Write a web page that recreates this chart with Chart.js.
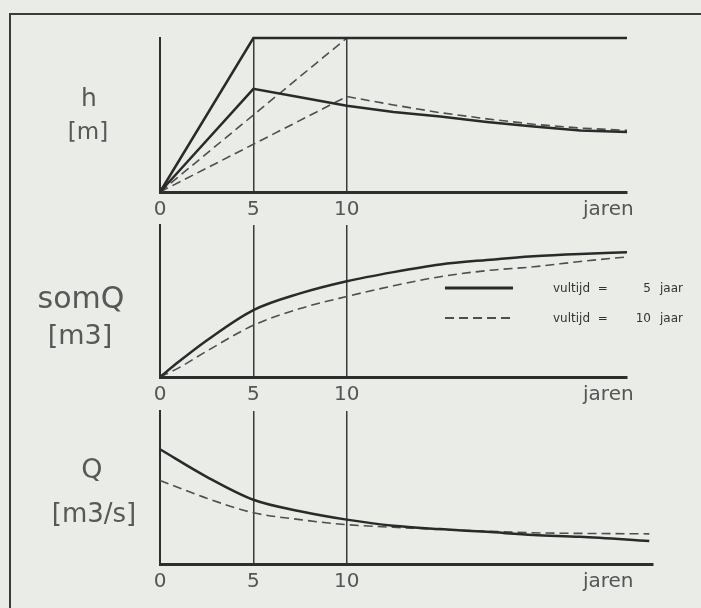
<!DOCTYPE html>
<html>
<head>
<meta charset="utf-8">
<script src="https://cdn.jsdelivr.net/npm/chart.js@4.4.1/dist/chart.umd.min.js"></script>
<style>
    body {
        margin: 0;
        width: 701px;
        height: 608px;
        background: #eaece8;
        position: relative;
        overflow: hidden;
        font-family: "DejaVu Sans", sans-serif;
        color: #585858;
    }
    .frame {
        position: absolute;
        left: 9px;
        top: 13px;
        right: -10px;
        bottom: -10px;
        border-left: 2px solid #3c3c3c;
        border-top: 2px solid #3c3c3c;
    }
    canvas { position: absolute; left: 0; }
    .lbl {
        position: absolute;
        transform: translate(-50%, -50%);
        white-space: nowrap;
        line-height: 1;
    }
</style>
</head>
<body>
<div class="frame"></div>
<canvas id="hChart" width="701" height="228" style="top:0px"></canvas>
<canvas id="somQChart" width="701" height="213" style="top:200px"></canvas>
<canvas id="qChart" width="701" height="215" style="top:385px"></canvas>

<div class="lbl" style="left:89px; top:97px; font-size:25px">h</div>
<div class="lbl" style="left:88px; top:131px; font-size:23px">[m]</div>
<div class="lbl" style="left:81px; top:298px; font-size:30px">somQ</div>
<div class="lbl" style="left:80px; top:334px; font-size:27px">[m3]</div>
<div class="lbl" style="left:92px; top:468px; font-size:27px">Q</div>
<div class="lbl" style="left:94px; top:513px; font-size:26px">[m3/s]</div>

<script>
// vultijd (filling time) in years, one per series
const fillTimes = [5, 10];
const legendText = ['vultijd  =', 'jaar'];

const xTicks = [0, 5, 10, 24];
const xTickLabels = ['0', '5', '10', 'jaren'];

// h [m]
const hFullX5 = [0, 5, 25];
const hFullY5 = [0, 1, 1];
const hFullX10 = [0, 10, 25];
const hFullY10 = [0, 1, 1];
const hLowX5 = [0, 5, 7.5, 10, 12.5, 15, 17.5, 20, 22.5, 25];
const hLowY5 = [0, 0.67, 0.615, 0.56, 0.52, 0.49, 0.455, 0.425, 0.40, 0.39];
const hLowX10 = [0, 10, 12.5, 15, 17.5, 20, 22.5, 25];
const hLowY10 = [0, 0.62, 0.565, 0.515, 0.475, 0.44, 0.415, 0.40];

// somQ [m3]
const somQX = [0, 1, 2.5, 5, 7.5, 10, 12.5, 15, 17.5, 20, 22.5, 25];
const somQ5 = [0, 0.10, 0.24, 0.44, 0.55, 0.63, 0.69, 0.74, 0.77, 0.795, 0.81, 0.82];
const somQ10 = [0, 0.06, 0.17, 0.34, 0.45, 0.53, 0.60, 0.66, 0.70, 0.725, 0.76, 0.79];

// Q [m3/s]
const qX = [0, 2.5, 5, 7.5, 10, 12.5, 15, 17.5, 20, 22.5, 26.2];
const q5 = [0.75, 0.57, 0.42, 0.345, 0.29, 0.25, 0.228, 0.21, 0.19, 0.178, 0.15];
const q10 = [0.546, 0.43, 0.335, 0.29, 0.257, 0.24, 0.226, 0.215, 0.204, 0.2, 0.197];

const solidStyle = { borderColor: '#2a2a2a', borderWidth: 2.5, borderDash: [] };
const dashedStyle = { borderColor: '#4e4e4e', borderWidth: 1.6, borderDash: [9, 5] };
const fontFamily = '"DejaVu Sans", sans-serif';

function points(xs, ys) {
    return xs.map((x, i) => ({ x: x, y: ys[i] }));
}

function series(xs, ys, style, smooth) {
    return Object.assign({
        data: points(xs, ys),
        pointRadius: 0,
        fill: false,
        clip: false,
        cubicInterpolationMode: smooth ? 'monotone' : 'default',
        tension: 0
    }, style);
}

const legendPlugin = {
    id: 'vultijdLegend',
    afterDatasetsDraw(chart) {
        const ctx = chart.ctx;
        [solidStyle, dashedStyle].forEach((st, i) => {
            const y = 88 + i * 30;
            ctx.save();
            ctx.strokeStyle = st.borderColor;
            ctx.lineWidth = i === 0 ? 3 : 1.8;
            ctx.setLineDash(st.borderDash);
            ctx.beginPath();
            ctx.moveTo(445, y);
            ctx.lineTo(513, y);
            ctx.stroke();
            ctx.setLineDash([]);
            ctx.fillStyle = '#333';
            ctx.font = '12px ' + fontFamily;
            ctx.textBaseline = 'middle';
            ctx.textAlign = 'left';
            ctx.fillText(legendText[0], 553, y + 1);
            ctx.textAlign = 'right';
            ctx.fillText(String(fillTimes[i]), 651, y + 1);
            ctx.textAlign = 'left';
            ctx.fillText(legendText[1], 660, y + 1);
            ctx.restore();
        });
    }
};

function makePanel(id, datasets, xMax, padTop, padRight, plugins) {
    return new Chart(document.getElementById(id), {
        type: 'line',
        data: { datasets: datasets },
        plugins: plugins || [],
        options: {
            responsive: false,
            animation: false,
            events: [],
            layout: { padding: { left: 160, right: padRight, top: padTop, bottom: 6 } },
            plugins: { legend: { display: false }, tooltip: { enabled: false } },
            scales: {
                x: {
                    type: 'linear',
                    min: 0,
                    max: xMax,
                    afterBuildTicks: s => { s.ticks = xTicks.map(v => ({ value: v })); },
                    afterFit: s => { s.height = 30; },
                    ticks: {
                        autoSkip: false,
                        maxRotation: 0,
                        padding: 6,
                        color: '#555',
                        font: { size: 20, family: fontFamily },
                        callback: v => xTickLabels[xTicks.indexOf(v)]
                    },
                    grid: {
                        drawTicks: false,
                        lineWidth: 1.5,
                        color: c => (c.tick && fillTimes.includes(c.tick.value)) ? '#3a3a3a' : 'rgba(0,0,0,0)'
                    },
                    border: { display: true, color: '#2e2e2e', width: 3 }
                },
                y: {
                    min: 0,
                    max: 1,
                    ticks: { display: false },
                    grid: { display: false },
                    border: { display: true, color: '#2e2e2e', width: 2 },
                    afterFit: s => { s.width = 0; }
                }
            }
        }
    });
}

makePanel('hChart', [
    series(hFullX5, hFullY5, solidStyle, false),
    series(hLowX5, hLowY5, solidStyle, false),
    series(hFullX10, hFullY10, dashedStyle, false),
    series(hLowX10, hLowY10, dashedStyle, false)
], 25, 38, 74);

makePanel('somQChart', [
    series(somQX, somQ5, solidStyle, true),
    series(somQX, somQ10, dashedStyle, true)
], 25, 25, 74, [legendPlugin]);

makePanel('qChart', [
    series(qX, q5, solidStyle, true),
    series(qX, q10, dashedStyle, true)
], 26.4, 26, 48);
</script>
</body>
</html>
